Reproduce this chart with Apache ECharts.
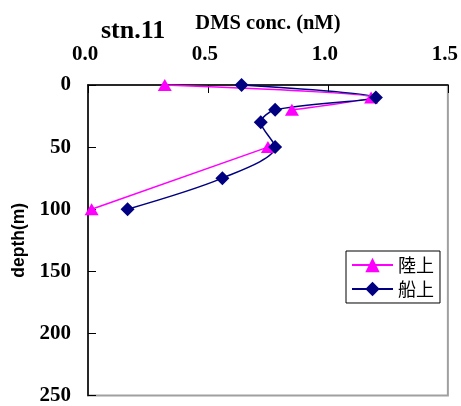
<!DOCTYPE html>
<html>
<head>
<meta charset="utf-8">
<script src="https://cdn.jsdelivr.net/npm/echarts@6/dist/echarts.min.js"></script>
<style>
  html, body { margin: 0; padding: 0; background: #fff; }
  #chart { width: 461px; height: 406px; }
</style>
</head>
<body>
<div id="chart"></div>
<script>
// DMS concentration profile at station 11
const seriesNames = ['陸上', '船上'];
// land-based measurement: DMS (nM) by depth (m); no sample at 30 m
const landConc  = [0.32, 1.18, 0.85, null, 0.75, 0.015];
const landDepth = [0, 10, 20, 30, 50, 100];
// shipboard measurement: DMS (nM) by depth (m)
const shipConc  = [0.64, 1.20, 0.78, 0.72, 0.78, 0.56, 0.165];
const shipDepth = [0, 10, 20, 30, 50, 75, 100];
const xTicks = [0, 0.5, 1.0, 1.5];
const yTicks = [0, 50, 100, 150, 200, 250];

// missing values become '-' so the line breaks there
const pair = (xs, ys) => xs.map((v, i) => [v == null ? '-' : v, ys[i]]);

const serif = 'Liberation Serif, Times New Roman, serif';
const chart = echarts.init(document.getElementById('chart'));
chart.setOption({
  animation: false,
  backgroundColor: '#fff',
  title: {
    text: 'stn.11',
    left: 101, top: 18, padding: 0,
    textStyle: { fontFamily: serif, fontWeight: 'bold', fontSize: 26, color: '#000' }
  },
  grid: {
    left: 88, top: 85, right: 11, bottom: 10,
    show: true, borderColor: '#a0a0a0', borderWidth: 2, backgroundColor: '#fff'
  },
  legend: {
    orient: 'vertical',
    left: 346, top: 251,
    padding: [5, 6, 5, 5],
    itemWidth: 41, itemHeight: 18, itemGap: 6, itemTextGap: 6,
    borderColor: '#000', borderWidth: 1, backgroundColor: '#fff',
    textStyle: { fontFamily: 'Noto Sans CJK JP', fontSize: 18, color: '#000' },
    data: seriesNames
  },
  xAxis: {
    type: 'value', position: 'top',
    min: xTicks[0], max: xTicks[xTicks.length - 1], interval: 0.5,
    name: 'DMS conc. (nM)', nameLocation: 'middle', nameGap: 51,
    nameTextStyle: { fontFamily: serif, fontWeight: 'bold', fontSize: 20.5, color: '#000' },
    axisLine: { lineStyle: { color: '#000', width: 1.5 } },
    axisTick: { inside: true, length: 8, lineStyle: { color: '#000' } },
    axisLabel: {
      margin: 20, fontFamily: serif, fontWeight: 'bold', fontSize: 21, color: '#000',
      padding: [0, 6, 0, 0],
      formatter: v => v.toFixed(1)
    },
    splitLine: { show: false }
  },
  yAxis: {
    type: 'value', inverse: true,
    min: yTicks[0], max: yTicks[yTicks.length - 1], interval: 50,
    name: 'depth(m)', nameLocation: 'middle', nameGap: 54, nameRotate: 90,
    nameTextStyle: { fontFamily: 'Liberation Sans, Arial, sans-serif', fontWeight: 'bold', fontSize: 17.5, color: '#000' },
    axisLine: { lineStyle: { color: '#000', width: 1.5 } },
    axisTick: { inside: true, length: 8, lineStyle: { color: '#000' } },
    axisLabel: { margin: 17, fontFamily: serif, fontWeight: 'bold', fontSize: 21, color: '#000' },
    splitLine: { show: false }
  },
  series: [
    {
      name: seriesNames[0], type: 'line', smooth: 0.3, connectNulls: false,
      data: pair(landConc, landDepth),
      symbol: 'triangle', symbolSize: [14, 12],
      lineStyle: { color: '#ff00ff', width: 1.5 },
      itemStyle: { color: '#ff00ff' }
    },
    {
      name: seriesNames[1], type: 'line', smooth: 0.3,
      data: pair(shipConc, shipDepth),
      symbol: 'diamond', symbolSize: 14,
      lineStyle: { color: '#000080', width: 1.5 },
      itemStyle: { color: '#000080' }
    }
  ]
});
</script>
</body>
</html>
